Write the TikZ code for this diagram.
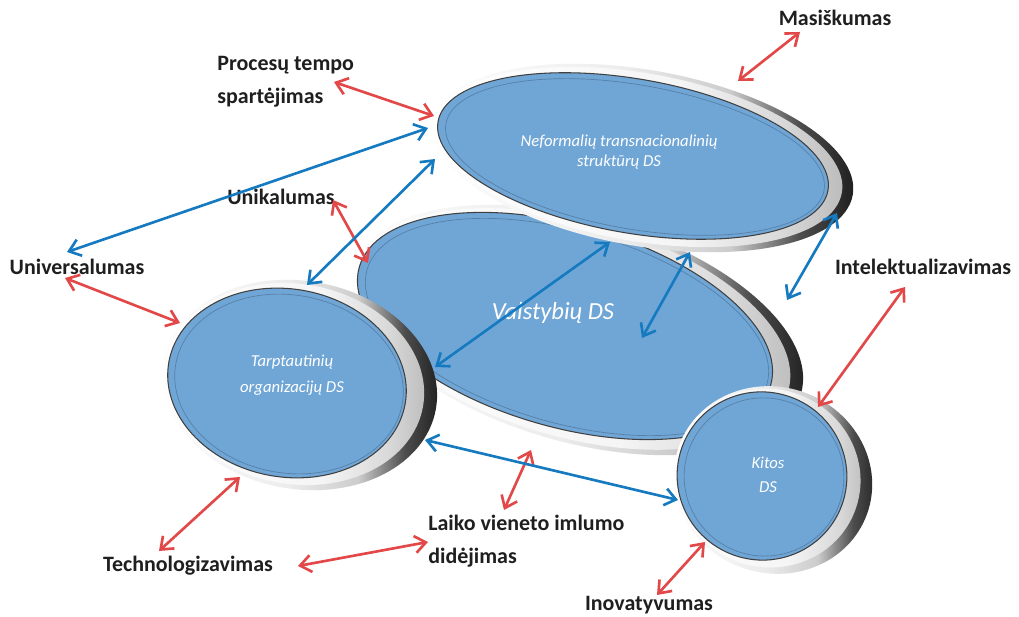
\documentclass[tikz,border=0pt]{standalone}
\usepackage{fontspec}
\setmainfont{Carlito}
\usetikzlibrary{arrows.meta}

\definecolor{dsblue}{RGB}{112,166,214}
\definecolor{arrred}{RGB}{226,72,72}
\definecolor{arrblue}{RGB}{22,122,192}

\pgfdeclarehorizontalshading{silverring}{100bp}{color(0bp)=(white); color(25bp)=(white);
  color(48bp)=(gray!15); color(60bp)=(gray!40); color(68bp)=(black!70);
  color(75bp)=(black!90); color(100bp)=(black!90)}
\pgfdeclarehorizontalshading{silvermid}{100bp}{color(0bp)=(white); color(25bp)=(white);
  color(55bp)=(gray!8); color(67bp)=(gray!30); color(75bp)=(gray!55); color(100bp)=(gray!55)}

\tikzset{
  ringouter/.style={shade, shading=silverring},
  ringmid/.style={shade, shading=silvermid},
  ringinner/.style={fill=dsblue, draw=black!75, line width=0.6pt},
  ringbevel/.style={draw=dsblue!55!black, line width=0.4pt, opacity=0.5},
  dstext/.style={text=white, font=\fontsize{9.5}{11.5}\selectfont\itshape, align=center, inner sep=0pt},
  lbl/.style={font=\fontsize{12.5}{19}\selectfont\bfseries, text=black!88, inner sep=0pt},
  tipbarb/.tip={Straight Barb[length=2.2mm,width=3.4mm]},
  redarr/.style={draw=arrred, line width=1.5pt, tipbarb-tipbarb},
  bluearr/.style={draw=arrblue, line width=1.5pt, tipbarb-tipbarb}
}

\begin{document}
\begin{tikzpicture}[x=0.02cm, y=-0.02cm]
\fill[white] (0,0) rectangle (1019,617);
\useasboundingbox (0,0) rectangle (1019,617);

% Valstybiu DS (behind the others)
\path[ringouter, rotate around={-16:(578,330)}] (578,330) ellipse [x radius=4.64cm, y radius=2.24cm];
\path[ringmid, rotate around={-16:(573,329)}] (573,329) ellipse [x radius=4.48cm, y radius=2.16cm];
\draw[ringinner, rotate around={-16:(565,326)}] (565,326) ellipse [x radius=4.28cm, y radius=2.02cm];
\draw[ringbevel, rotate around={-16:(567,327)}] (567,327) ellipse [x radius=4.16cm, y radius=1.92cm];

% Neformaliu transnacionaliniu strukturu DS
\path[ringouter, rotate around={-10:(643,158)}] (643,158) ellipse [x radius=4.26cm, y radius=1.76cm];
\path[ringmid, rotate around={-10:(639,157)}] (639,157) ellipse [x radius=4.12cm, y radius=1.68cm];
\draw[ringinner, rotate around={-10:(633,156)}] (633,156) ellipse [x radius=3.96cm, y radius=1.54cm];
\draw[ringbevel, rotate around={-10:(635,157)}] (635,157) ellipse [x radius=3.84cm, y radius=1.44cm];

% Tarptautiniu organizaciju DS
\path[ringouter, rotate around={-10:(300,385)}] (300,385) ellipse [x radius=2.76cm, y radius=2.08cm];
\path[ringmid, rotate around={-10:(295,384)}] (295,384) ellipse [x radius=2.60cm, y radius=2.00cm];
\draw[ringinner, rotate around={-10:(287,383)}] (287,383) ellipse [x radius=2.40cm, y radius=1.88cm];
\draw[ringbevel, rotate around={-10:(289,384)}] (289,384) ellipse [x radius=2.30cm, y radius=1.78cm];

% Kitos DS
\path[ringouter, rotate around={-20:(773,480)}] (773,480) ellipse [x radius=2.00cm, y radius=1.86cm];
\path[ringmid, rotate around={-20:(768,478)}] (768,478) ellipse [x radius=1.86cm, y radius=1.78cm];
\draw[ringinner, rotate around={-20:(762,476)}] (762,476) ellipse [x radius=1.70cm, y radius=1.68cm];
\draw[ringbevel, rotate around={-20:(764,477)}] (764,477) ellipse [x radius=1.60cm, y radius=1.58cm];

% texts in the ellipses
\node[dstext] (neform) at (619,152) {Neformalių transnacionalinių\\struktūrų DS};
\node[dstext, font=\fontsize{14}{17}\selectfont\itshape] (valst) at (553,313) {Valstybių DS};
\node[dstext, font=\fontsize{9.5}{14.5}\selectfont\itshape] (tarpt) at (292,375) {Tarptautinių\\organizacijų DS};
\node[dstext, font=\fontsize{9.5}{14}\selectfont\itshape] (kitos) at (768,475) {Kitos\\DS};

% labels
\node[lbl] (masisk) at (835,18) {Masiškumas};
\node[lbl, align=left, anchor=west] (procesu) at (217,82) {Procesų tempo\\spartėjimas};
\node[lbl] (unikal) at (281,197) {Unikalumas};
\node[lbl] (univers) at (77,267) {Universalumas};
\node[lbl] (intelekt) at (923,267) {Intelektualizavimas};
\node[lbl] (technol) at (188,566) {Technologizavimas};
\node[lbl, align=left, anchor=west] (laiko) at (428,541) {Laiko vieneto imlumo\\didėjimas};
\node[lbl] (inovat) at (649,605) {Inovatyvumas};

% arrow ends
\coordinate (masisk-tip) at (800,32);   \coordinate (neform-ne) at (738,81);
\coordinate (procesu-tip) at (334,82);  \coordinate (neform-w) at (434,116);
\coordinate (unikal-tip) at (333,200);  \coordinate (valst-nw) at (368,263);
\coordinate (univers-tip) at (65,278);  \coordinate (tarpt-nw) at (180,323);
\coordinate (technol-tip) at (159,551); \coordinate (tarpt-s) at (240,477);
\coordinate (technol-tip2) at (298,566); \coordinate (laiko-tip) at (428,542);
\coordinate (laiko-tip2) at (504,510);  \coordinate (valst-s) at (531,450);
\coordinate (inovat-tip) at (657,595);  \coordinate (kitos-sw) at (705,542);
\coordinate (intelekt-tip) at (905,287); \coordinate (kitos-ne) at (818,407);
\coordinate (univers-tip2) at (67,252); \coordinate (neform-w2) at (428,128);
\coordinate (tarpt-n) at (307,285);     \coordinate (neform-sw) at (435,159);
\coordinate (tarpt-e) at (435,367);     \coordinate (neform-s) at (610,242);
\coordinate (valst-in) at (642,338);    \coordinate (neform-s2) at (690,252);
\coordinate (neform-e) at (837,213);    \coordinate (valst-e) at (787,300);
\coordinate (tarpt-se) at (425,440);    \coordinate (kitos-w) at (678,500);

% red arrows
\draw[redarr] (masisk-tip) -- (neform-ne);
\draw[redarr] (procesu-tip) -- (neform-w);
\draw[redarr] (unikal-tip) -- (valst-nw);
\draw[redarr] (univers-tip) -- (tarpt-nw);
\draw[redarr] (technol-tip) -- (tarpt-s);
\draw[redarr] (technol-tip2) -- (laiko-tip);
\draw[redarr] (laiko-tip2) -- (valst-s);
\draw[redarr] (inovat-tip) -- (kitos-sw);
\draw[redarr] (intelekt-tip) -- (kitos-ne);

% blue arrows
\draw[bluearr] (univers-tip2) -- (neform-w2);
\draw[bluearr] (tarpt-n) -- (neform-sw);
\draw[bluearr] (tarpt-e) -- (neform-s);
\draw[bluearr] (valst-in) -- (neform-s2);
\draw[bluearr] (neform-e) -- (valst-e);
\draw[bluearr] (tarpt-se) -- (kitos-w);
\end{tikzpicture}
\end{document}
